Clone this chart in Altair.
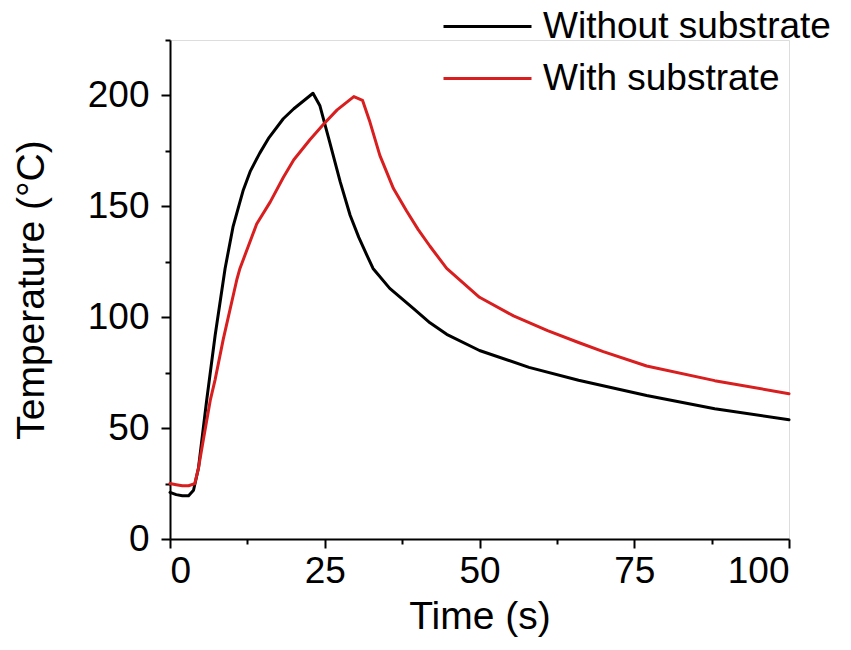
import altair as alt
import pandas as pd

# Heating / cooling curves, time in s and temperature in °C
t_without = [0, 1, 2, 3, 3.8, 4.6, 5.9, 7.3, 8.9, 10.2, 11.3, 11.8, 13, 14.5, 16, 18.3, 20,
             22, 23.1, 24.2, 25.8, 27.5, 29.1, 30.5, 31.8, 32.8, 35.5, 39.3, 42, 44.7, 50,
             58, 66, 77, 88, 100]
temp_without = [21, 20, 19.5, 19.5, 22, 32, 62, 92, 122, 141, 152, 157, 166, 174, 181, 189.5,
                194, 198.5, 201, 195.5, 179, 161, 146, 136, 128, 122, 113, 104, 97.5, 92.3,
                85, 77.4, 71.6, 64.7, 58.7, 53.8]

t_with = [0, 1, 2, 3, 4, 4.6, 5.4, 6.5, 7.3, 8.6, 10.8, 11.3, 14, 16.2, 18.3, 20, 22.6, 24.8,
          27, 29.7, 31.1, 32.3, 33.9, 36.1, 38.2, 40.1, 42, 44.7, 50, 55.5, 61, 66, 70, 77,
          88, 100]
temp_with = [25, 24.5, 24, 24, 25, 32, 45, 62.5, 72, 90, 117, 122, 142, 152, 163, 171, 180,
             187, 193.5, 199.5, 197.8, 188, 173, 158, 148, 139.5, 132, 122, 109, 100.6, 94,
             88.6, 84.5, 78, 71.4, 65.5]

series_names = ["Without substrate", "With substrate"]
series_colors = ["#000000", "#d81e1e"]

x_major = [0, 25, 50, 75, 100]
x_minor = [12.5, 37.5, 62.5, 87.5]
y_major = [0, 50, 100, 150, 200]
y_minor = [25, 75, 125, 175, 225]

df = pd.concat([
    pd.DataFrame({"time": t_without, "temp": temp_without, "series": series_names[0]}),
    pd.DataFrame({"time": t_with, "temp": temp_with, "series": series_names[1]}),
])

FONT = "Liberation Sans"
x_scale = alt.Scale(domain=[0, 100], nice=False, zero=False)
y_scale = alt.Scale(domain=[0, 225], nice=False)

# long legend stroke: the path runs from -1 to 3 symbol half-widths
legend_stroke = "M-1,0H3"

main = alt.Chart(df).mark_line(strokeWidth=3, strokeJoin="round", strokeCap="round").encode(
    x=alt.X("time:Q", scale=x_scale, title="Time (s)",
            axis=alt.Axis(orient="bottom", values=x_major, tickSize=9, tickWidth=2,
                          domainWidth=2, domainColor="black", tickColor="black",
                          labelFont=FONT, labelFontSize=37, labelColor="black",
                          labelPadding=5, labelOverlap=False, grid=False,
                          titleFont=FONT, titleFontSize=39, titleFontWeight="normal",
                          titleColor="black", titlePadding=8, format="d")),
    y=alt.Y("temp:Q", scale=y_scale, title="Temperature (°C)",
            axis=alt.Axis(orient="left", values=y_major, tickSize=9, tickWidth=2,
                          domainWidth=2, domainColor="black", tickColor="black",
                          labelFont=FONT, labelFontSize=37, labelColor="black",
                          labelPadding=12, labelOverlap=False, grid=False,
                          titleFont=FONT, titleFontSize=39, titleFontWeight="normal",
                          titleColor="black", titlePadding=36, format="d")),
    color=alt.Color("series:N", sort=series_names,
                    scale=alt.Scale(domain=series_names, range=series_colors),
                    legend=alt.Legend(title=None, orient="none", legendX=272, legendY=-37,
                                      symbolType=legend_stroke, symbolSize=1936,
                                      symbolStrokeWidth=3, labelFont=FONT,
                                      labelFontSize=37, labelColor="black", labelLimit=0,
                                      labelOffset=54, rowPadding=10, padding=0)),
    order=alt.Order("time:Q"),
)

# short minor ticks between the labelled ones
minor = alt.Chart(df).mark_line(strokeOpacity=0).encode(
    x=alt.X("time:Q", scale=x_scale, title=None,
            axis=alt.Axis(orient="bottom", values=x_minor, tickSize=5, tickWidth=2,
                          tickColor="black", domain=False, labels=False, grid=False)),
    y=alt.Y("temp:Q", scale=y_scale, title=None,
            axis=alt.Axis(orient="left", values=y_minor, tickSize=5, tickWidth=2,
                          tickColor="black", domain=False, labels=False, grid=False)),
    detail="series:N",
)

chart = alt.layer(main, minor).resolve_axis(x="independent", y="independent").properties(
    width=619, height=499,
    autosize=alt.AutoSizeParams(type="none"),
    padding={"left": 170, "top": 40, "right": 62, "bottom": 111},
).configure_view(stroke=None).configure(background="white")

chart.save("out.html", embed_options={"renderer": "svg", "actions": False})
